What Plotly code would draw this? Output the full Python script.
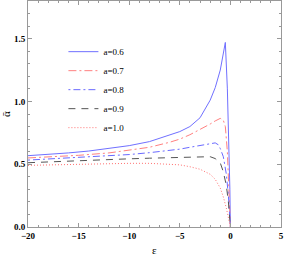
import plotly.graph_objects as go

labels = ["a=0.6", "a=0.7", "a=0.8", "a=0.9", "a=1.0"]

x06 = [-20, -18, -16, -14, -12, -10, -8, -6, -5, -4, -3, -2, -1.5, -1, -0.75, -0.5, -0.3, -0.1, -0.05, 0]
y06 = [0.568, 0.578, 0.59, 0.605, 0.625, 0.648, 0.68, 0.73, 0.76, 0.80, 0.87, 1.01, 1.11, 1.25, 1.35, 1.47, 1.1, 0.6, 0.3, 0.0]

x07 = [-20, -15, -12, -10, -8, -6, -5, -4, -3, -2, -1.5, -1, -0.7, -0.5, -0.3, -0.15, 0]
y07 = [0.55, 0.571, 0.59, 0.61, 0.635, 0.675, 0.70, 0.735, 0.775, 0.82, 0.845, 0.865, 0.85, 0.80, 0.6, 0.35, 0.0]

x08 = [-20, -15, -12, -10, -8, -6, -5, -4, -3, -2, -1.5, -1.2, -1, -0.7, -0.4, -0.2, 0]
y08 = [0.533, 0.555, 0.568, 0.577, 0.592, 0.61, 0.62, 0.635, 0.65, 0.665, 0.67, 0.655, 0.625, 0.56, 0.42, 0.25, 0.0]

x09 = [-20, -15, -12, -10, -8, -6, -4, -3, -2, -1.5, -1, -0.7, -0.4, -0.2, 0]
y09 = [0.512, 0.53, 0.538, 0.543, 0.548, 0.553, 0.558, 0.56, 0.56, 0.545, 0.51, 0.44, 0.33, 0.2, 0.0]

x10 = [-20, -15, -12, -10, -8, -6, -5, -4, -3, -2, -1.5, -1, -0.7, -0.4, -0.2, 0]
y10 = [0.491, 0.502, 0.505, 0.507, 0.507, 0.503, 0.495, 0.48, 0.46, 0.42, 0.38, 0.31, 0.24, 0.15, 0.08, 0.0]

x_ticks = [-20, -15, -10, -5, 0, 5]
x_ticktext = ["\u221220", "\u221215", "\u221210", "\u22125", "0", "5"]
y_ticks = [0, 0.5, 1.0, 1.5]
y_ticktext = ["0.0", "0.5", "1.0", "1.5"]

xs = [x06, x07, x08, x09, x10]
ys = [y06, y07, y08, y09, y10]
colors = ["#7070ff", "#ff8080", "#6a6aff", "#555555", "#ff7070"]
dashes = ["solid", "8px,3px,2px,3px", "2px,3px,7px,3px", "7px,6px", "1px,2px"]

fig = go.Figure()
for lab, x, y, c, d in zip(labels, xs, ys, colors, dashes):
    fig.add_trace(go.Scatter(x=x, y=y, mode="lines", name=lab,
                             line=dict(color=c, width=1, dash=d)))

ser = "Liberation Serif, Times New Roman, serif"
font = dict(family=ser, size=9, color="black")
fig.update_layout(
    width=284, height=255,
    margin=dict(l=28, r=3, t=1, b=28),
    plot_bgcolor="white", paper_bgcolor="white",
    font=font,
    showlegend=True,
    legend=dict(x=0.14, y=0.84, xanchor="left", yanchor="top",
                bgcolor="rgba(0,0,0,0)", font=dict(size=9, family=ser),
                itemwidth=30, tracegroupgap=0),
)
axis_common = dict(showgrid=False, zeroline=False, showline=True, linecolor="#999999",
                   linewidth=1, mirror="allticks", ticks="inside", ticklen=4,
                   tickcolor="#999999", automargin=False,
                   tickfont=dict(family=ser, size=9, color="black", weight="bold"))
fig.update_xaxes(range=[-20, 5], tickvals=x_ticks, ticktext=x_ticktext,
                 minor=dict(dtick=1, ticks="inside", ticklen=2, tickcolor="#999999"),
                 **axis_common)
fig.update_yaxes(range=[0, 1.8], tickvals=y_ticks, ticktext=y_ticktext,
                 minor=dict(dtick=0.1, ticks="inside", ticklen=2, tickcolor="#999999"),
                 title=dict(text="\u1fb1", font=dict(size=11, family=ser), standoff=3),
                 **axis_common)
fig.add_annotation(text="\u03b5", xref="paper", yref="paper", x=0.5, y=-0.1,
                   xanchor="center", yanchor="middle", showarrow=False,
                   font=dict(size=11, family=ser, color="black"))
fig.write_html("out.html", config={"displayModeBar": False},
               post_script="document.body.style.margin='0';")
